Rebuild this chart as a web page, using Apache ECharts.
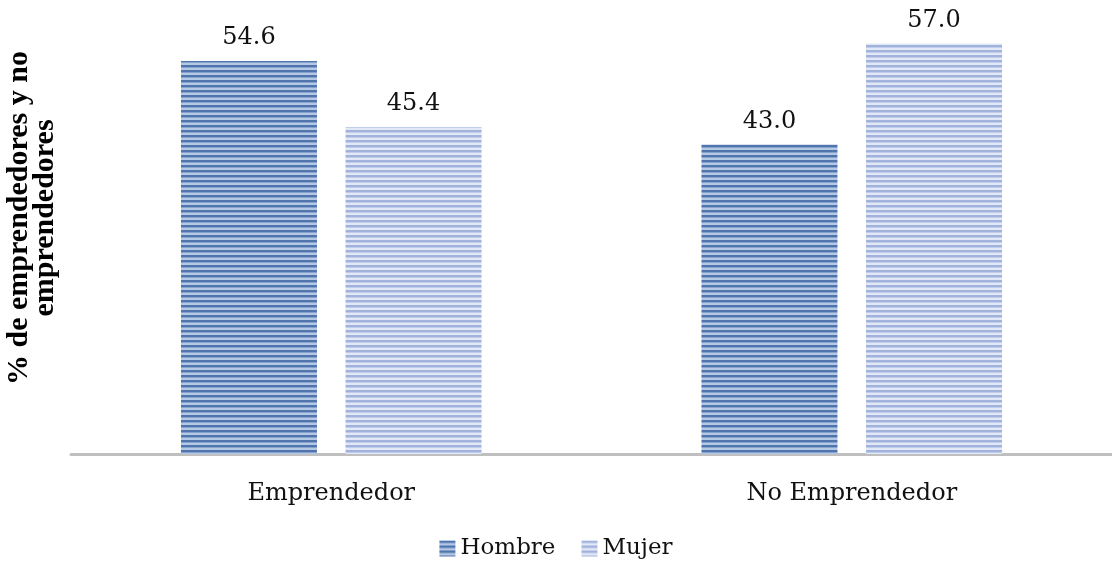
<!DOCTYPE html>
<html>
<head>
<meta charset="utf-8">
<script src="https://cdn.jsdelivr.net/npm/echarts@6/dist/echarts.min.js"></script>
<style>
  html, body { margin: 0; padding: 0; background: #fff; }
  #chart { width: 1112px; height: 565px; }
</style>
</head>
<body>
<div id="chart"></div>
<script>
const categories = ['Emprendedor', 'No Emprendedor']
const hombre = [54.6, 43.0]
const mujer = [45.4, 57.0]
const seriesNames = ['Hombre', 'Mujer']
const yTitle = '% de emprendedores y no\nemprendedores'

// horizontal stripe fill like the original office chart
function stripes(dark, mid, light) {
  const c = document.createElement('canvas')
  c.width = 4
  c.height = 5
  const ctx = c.getContext('2d')
  ctx.fillStyle = light
  ctx.fillRect(0, 0, 4, 5)
  ctx.fillStyle = dark
  ctx.fillRect(0, 0, 4, 2)
  ctx.fillStyle = mid
  ctx.fillRect(0, 2, 4, 1)
  return { image: c, repeat: 'repeat' }
}

const hombreFill = stripes('#5075ad', '#86a2cf', '#b5c8e4')
const mujerFill = stripes('#a2b3db', '#bfcceb', '#e2e8f5')

const serif = 'DejaVu Serif'

const label = {
  show: true,
  position: 'top',
  distance: 11,
  fontFamily: serif,
  fontSize: 24,
  color: '#111',
  formatter: p => p.value.toFixed(1),
}

const chart = echarts.init(document.getElementById('chart'))
chart.setOption({
  animation: false,
  grid: { left: 71, right: -2, top: 22, bottom: 111 },
  legend: {
    data: seriesNames,
    bottom: 0,
    left: 'center',
    icon: 'rect',
    itemWidth: 16,
    itemHeight: 16,
    itemGap: 26,
    textStyle: { fontFamily: serif, fontSize: 23, color: '#111' },
  },
  xAxis: {
    type: 'category',
    data: categories,
    axisLine: { lineStyle: { color: '#bfbfbf', width: 3 } },
    axisTick: { show: false },
    axisLabel: { fontFamily: serif, fontSize: 24, color: '#111', margin: 28 },
  },
  yAxis: {
    type: 'value',
    min: 0,
    max: 60,
    show: false,
    splitLine: { show: false },
  },
  graphic: [{
    type: 'text',
    x: 32,
    y: 218,
    rotation: Math.PI / 2,
    style: {
      text: yTitle,
      fontFamily: 'Liberation Serif',
      fontWeight: 'bold',
      fontSize: 30,
      lineHeight: 26,
      fill: '#000',
      align: 'center',
      verticalAlign: 'middle',
    },
  }],
  series: [
    {
      name: seriesNames[0],
      type: 'bar',
      data: hombre,
      barWidth: 136,
      barGap: '21%',
      itemStyle: { color: hombreFill },
      label,
    },
    {
      name: seriesNames[1],
      type: 'bar',
      data: mujer,
      barWidth: 136,
      itemStyle: { color: mujerFill },
      label,
    },
  ],
})
</script>
</body>
</html>
